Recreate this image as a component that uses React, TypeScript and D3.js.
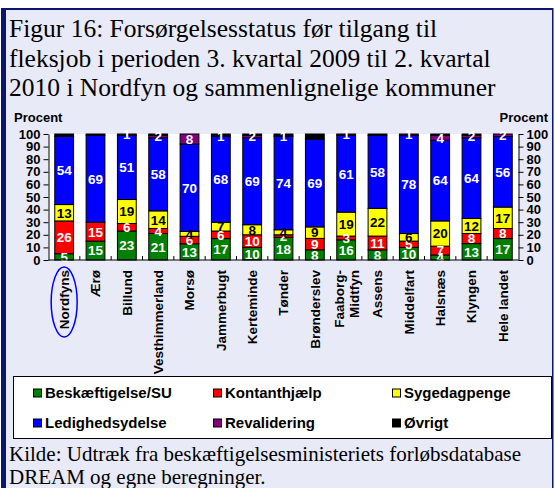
import * as d3 from "d3";
import React, { useEffect, useRef } from "react";

const kommuner = [
  "Nordfyns", "Ærø", "Billund", "Vesthimmerland", "Morsø", "Jammerbugt", "Kerteminde",
  "Tønder", "Brønderslev", "Faaborg-Midtfyn", "Assens", "Middelfart", "Halsnæs", "Klyngen", "Hele landet",
];

const beskaeftigelse = [5, 15, 23, 21, 13, 17, 10, 18, 8, 16, 8, 10, 4, 13, 17];
const kontanthjaelp = [26, 15, 6, 4, 6, 6, 10, 2, 9, 3, 11, 5, 7, 8, 8];
const sygedagpenge = [13, 0, 19, 14, 4, 7, 8, 4, 9, 19, 22, 6, 20, 12, 17];
const ledighedsydelse = [54, 69, 51, 58, 70, 68, 69, 74, 69, 61, 58, 78, 64, 64, 56];
const revalidering = [0, 0, 1, 2, 8, 1, 2, 1, 0, 1, 0, 1, 4, 2, 2];
const oevrigt = [2, 1, 0, 1, 0, 1, 1, 1, 4, 0, 1, 0, 1, 1, 0];

const yTicks = [0, 10, 20, 30, 40, 50, 60, 70, 80, 90, 100];

const series = [
  { key: "Beskæftigelse/SU", values: beskaeftigelse, color: "#008000", text: "#ffffff" },
  { key: "Kontanthjælp", values: kontanthjaelp, color: "#ff0000", text: "#ffffff" },
  { key: "Sygedagpenge", values: sygedagpenge, color: "#ffff00", text: "#000000" },
  { key: "Ledighedsydelse", values: ledighedsydelse, color: "#0000ff", text: "#ffffff" },
  { key: "Revalidering", values: revalidering, color: "#800080", text: "#ffffff" },
  { key: "Øvrigt", values: oevrigt, color: "#000000", text: null },
];

const titleLines = [
  "Figur 16: Forsørgelsesstatus før tilgang til",
  "fleksjob i perioden 3. kvartal 2009 til 2. kvartal",
  "2010 i Nordfyn og sammenlignelige kommuner",
];
const sourceLines = [
  "Kilde: Udtræk fra beskæftigelsesministeriets forløbsdatabase",
  "DREAM og egne beregninger.",
];

export default function App() {
  const ref = useRef<HTMLDivElement>(null);
  const width = 555;
  const height = 488;
  const plotLeft = 48.5;
  const plotRight = 518.5;
  const plotTop = 134;
  const plotBottom = 260;
  const sans = "Arial, 'Liberation Sans', sans-serif";
  const serif = "'Times New Roman', 'Liberation Serif', serif";

  useEffect(() => {
    d3.select(ref.current).select("svg").remove();

    const rows = kommuner.map((k, i) => {
      const row: any = { kommune: k };
      series.forEach((s) => (row[s.key] = s.values[i]));
      return row;
    });

    const stacked = d3
      .stack()
      .keys(series.map((s) => s.key))
      .offset(d3.stackOffsetExpand)(rows);

    const x = d3
      .scaleBand()
      .domain(kommuner)
      .range([plotLeft, plotRight])
      .paddingInner(0.4)
      .paddingOuter(0.2);

    const y = d3.scaleLinear().domain([0, 100]).range([plotBottom, plotTop]);

    const svg = d3
      .select(ref.current)
      .append("svg")
      .attr("width", width)
      .attr("height", height)
      .attr("viewBox", [0, 0, width, height]);

    // frame
    svg.append("rect").attr("width", width).attr("height", height).attr("fill", "#ffffff");
    svg.append("rect").attr("x", 4).attr("y", 9).attr("width", 549).attr("height", height - 9).attr("fill", "#e8eaf8");
    svg.append("rect").attr("x", 1).attr("y", 8).attr("width", 552).attr("height", 2).attr("fill", "#0b1670");
    svg.append("rect").attr("x", 1).attr("y", 8).attr("width", 5).attr("height", height - 8).attr("fill", "#0b1670");
    svg.append("rect").attr("x", 552).attr("y", 8).attr("width", 1.5).attr("height", height - 8).attr("fill", "#0b1670");

    svg
      .append("g")
      .selectAll("text")
      .data(titleLines)
      .join("text")
      .attr("x", 9)
      .attr("y", (d, i) => 37 + i * 29.5)
      .attr("font-family", serif)
      .attr("font-size", 25.5)
      .attr("fill", "#000")
      .text((d) => d);

    // plot area
    svg
      .append("rect")
      .attr("x", plotLeft)
      .attr("y", plotTop)
      .attr("width", plotRight - plotLeft)
      .attr("height", plotBottom - plotTop)
      .attr("fill", "#ffffff");

    const layer = svg
      .append("g")
      .selectAll("g")
      .data(stacked)
      .join("g")
      .attr("fill", (d, i) => series[i].color);

    layer
      .selectAll("rect")
      .data((d) => d)
      .join("rect")
      .attr("x", (d: any) => x(d.data.kommune)!)
      .attr("y", (d) => y(d[1] * 100))
      .attr("width", x.bandwidth())
      .attr("height", (d) => Math.max(0, y(d[0] * 100) - y(d[1] * 100)))
      .attr("stroke", "#000")
      .attr("stroke-width", 1);

    // segment labels
    stacked.forEach((s, si) => {
      const info = series[si];
      if (!info.text) return;
      svg
        .append("g")
        .selectAll("text")
        .data(s.filter((d: any) => d.data[info.key] > 0))
        .join("text")
        .attr("x", (d: any) => x(d.data.kommune)! + x.bandwidth() / 2)
        .attr("y", (d) => y(((d[0] + d[1]) / 2) * 100))
        .attr("dy", "0.36em")
        .attr("text-anchor", "middle")
        .attr("font-family", sans)
        .attr("font-weight", "bold")
        .attr("font-size", 13.5)
        .attr("fill", info.text)
        .text((d: any) => d.data[info.key]);
    });

    // axes
    const styleAxis = (g: any) => {
      g.selectAll("text").attr("font-family", sans).attr("font-weight", "bold").attr("font-size", 13).attr("fill", "#000");
      g.select(".domain").attr("stroke", "#000");
      g.selectAll("line").attr("stroke", "#000");
    };

    svg
      .append("g")
      .attr("transform", `translate(${plotLeft},0)`)
      .call(d3.axisLeft(y).tickValues(yTicks).tickSizeInner(5).tickSizeOuter(0).tickPadding(3))
      .call(styleAxis);

    svg
      .append("g")
      .attr("transform", `translate(${plotRight},0)`)
      .call(d3.axisRight(y).tickValues(yTicks).tickSizeInner(5).tickSizeOuter(0).tickPadding(3))
      .call(styleAxis);

    const xAxis = svg.append("g");
    xAxis
      .append("line")
      .attr("x1", plotLeft)
      .attr("x2", plotRight)
      .attr("y1", plotBottom)
      .attr("y2", plotBottom)
      .attr("stroke", "#000");
    xAxis
      .selectAll("line.tick")
      .data(kommuner.slice(1))
      .join("line")
      .attr("class", "tick")
      .attr("x1", (d) => x(d)! - (x.step() - x.bandwidth()) / 2)
      .attr("x2", (d) => x(d)! - (x.step() - x.bandwidth()) / 2)
      .attr("y1", plotBottom)
      .attr("y2", plotBottom - 4)
      .attr("stroke", "#000");

    // category labels, rotated
    const catLabels = svg
      .append("g")
      .selectAll("text")
      .data(kommuner)
      .join("text")
      .attr("transform", (d) => `translate(${x(d)! + x.bandwidth() / 2},270) rotate(-90)`)
      .attr("text-anchor", "end")
      .attr("font-family", sans)
      .attr("font-weight", "bold")
      .attr("font-size", 13.5)
      .attr("fill", "#000");
    catLabels.each(function (d) {
      const parts = d === "Faaborg-Midtfyn" ? ["Faaborg-", "Midtfyn"] : [d];
      const t = d3.select(this);
      parts.forEach((p, i) => {
        t.append("tspan")
          .attr("x", 0)
          .attr("y", parts.length === 1 ? 0 : (i - 0.5) * 15)
          .attr("dy", "0.36em")
          .text(p);
      });
    });

    svg
      .append("ellipse")
      .attr("cx", x("Nordfyns")! + x.bandwidth() / 2)
      .attr("cy", 302)
      .attr("rx", 13)
      .attr("ry", 35)
      .attr("fill", "none")
      .attr("stroke", "#0000ff")
      .attr("stroke-width", 1.5);

    // unit labels
    svg
      .append("text")
      .attr("x", 14)
      .attr("y", 122)
      .attr("font-family", sans)
      .attr("font-weight", "bold")
      .attr("font-size", 13)
      .text("Procent");
    svg
      .append("text")
      .attr("x", 548)
      .attr("y", 122)
      .attr("text-anchor", "end")
      .attr("font-family", sans)
      .attr("font-weight", "bold")
      .attr("font-size", 13)
      .text("Procent");

    // legend
    const legend = svg.append("g");
    legend
      .append("rect")
      .attr("x", 13.5)
      .attr("y", 376.5)
      .attr("width", 538)
      .attr("height", 62)
      .attr("fill", "#ffffff")
      .attr("stroke", "#000");
    const colX = [33, 213, 392];
    const rowY = [393, 423];
    const items = legend
      .selectAll("g")
      .data(series)
      .join("g")
      .attr("transform", (d, i) => `translate(${colX[i % 3]},${rowY[Math.floor(i / 3)]})`);
    items
      .append("rect")
      .attr("x", 0.5)
      .attr("y", -4)
      .attr("width", 8)
      .attr("height", 8)
      .attr("fill", (d) => d.color)
      .attr("stroke", "#000");
    items
      .append("text")
      .attr("x", 12)
      .attr("dy", "0.36em")
      .attr("font-family", sans)
      .attr("font-weight", "bold")
      .attr("font-size", 15)
      .text((d) => d.key);

    svg
      .append("g")
      .selectAll("text")
      .data(sourceLines)
      .join("text")
      .attr("x", 9)
      .attr("y", (d, i) => 461 + i * 23)
      .attr("font-family", serif)
      .attr("font-size", 21)
      .attr("fill", "#000")
      .text((d) => d);
  }, []);

  return <div ref={ref} style={{ position: "absolute", left: 0, top: 0 }}></div>;
}
